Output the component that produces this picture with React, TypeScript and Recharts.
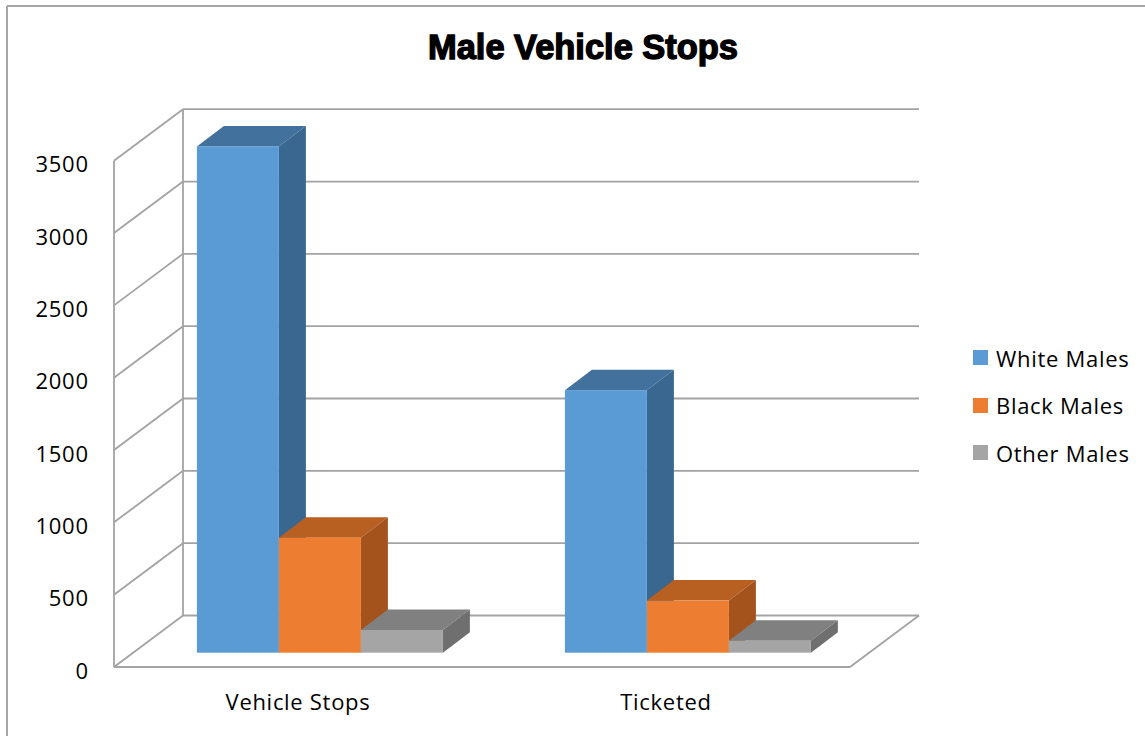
import React from 'react';
import { BarChart, Bar, XAxis, YAxis, CartesianGrid, Legend } from 'recharts';

const categories = ['Vehicle Stops', 'Ticketed'];
const whiteMales = [3500, 1815];
const blackMales = [795, 360];
const otherMales = [157, 83];
const yTicks = [0, 500, 1000, 1500, 2000, 2500, 3000, 3500];
const seriesNames = ['White Males', 'Black Males', 'Other Males'];

const data = categories.map((c, i) => ({
  category: c,
  white: whiteMales[i],
  black: blackMales[i],
  other: otherMales[i],
}));

const FONT = '"Open Sans", "Noto Sans", sans-serif';
const FS = 22;
const LS = 0.7;
const GRID = '#a3a3a3';
const WALL_DX = 69;
const WALL_DY = 51.5;
const FRONT_DX = 21.4;
const FRONT_DY = 14.3;
const BAR_DX = 27;
const BAR_DY = 20.5;

const COLORS = [
  { front: '#5B9BD5', top: '#41719C', side: '#3A6790' },
  { front: '#ED7D31', top: '#B85F22', side: '#A5531C' },
  { front: '#A5A5A5', top: '#808080', side: '#6F6F6F' },
];

const make3DBar = (c: { front: string; top: string; side: string }) => (p: any) => {
  const { x, y, width, height } = p;
  if (width == null || height == null) return <g />;
  const d = BAR_DX;
  const e = BAR_DY;
  return (
    <g>
      <polygon
        points={`${x},${y} ${x + d},${y - e} ${x + width + d},${y - e} ${x + width},${y}`}
        fill={c.top}
      />
      <polygon
        points={`${x + width},${y} ${x + width + d},${y - e} ${x + width + d},${y + height - e} ${x + width},${y + height}`}
        fill={c.side}
      />
      <rect x={x} y={y} width={width} height={height} fill={c.front} />
    </g>
  );
};

const renderGridLine = (p: any) => {
  const y = p.y1;
  const fx = p.x1 - FRONT_DX;
  const fy = y + FRONT_DY;
  const bx = fx + WALL_DX;
  const by = fy - WALL_DY;
  const frx = p.x2 - FRONT_DX;
  const brx = frx + WALL_DX;
  const isBottom = p.y != null && p.height != null && Math.abs(y - (p.y + p.height)) < 1;
  return (
    <g key={p.key ?? `g-${p.index}`}>
      <line x1={fx} y1={fy} x2={bx} y2={by} stroke={GRID} strokeWidth={1.8} />
      <line x1={bx} y1={by} x2={brx} y2={by} stroke={GRID} strokeWidth={1.8} />
      {isBottom && (
        <g>
          <line x1={fx} y1={fy} x2={frx} y2={fy} stroke={GRID} strokeWidth={1.8} />
          <line x1={frx} y1={fy} x2={brx} y2={by} stroke={GRID} strokeWidth={1.8} />
          <line x1={fx} y1={fy} x2={fx} y2={p.y + FRONT_DY} stroke={GRID} strokeWidth={1.8} />
          <line x1={bx} y1={by} x2={bx} y2={p.y + FRONT_DY - WALL_DY} stroke={GRID} strokeWidth={1.8} />
        </g>
      )}
    </g>
  );
};

const YTick = (p: any) => (
  <text
    x={p.x - 46.7}
    y={p.y + 26}
    textAnchor="end"
    fontFamily={FONT}
    fontSize={FS}
    letterSpacing={LS}
    fill="#000"
  >
    {p.payload.value}
  </text>
);

const XTick = (p: any) => (
  <text
    x={p.x - FRONT_DX}
    y={p.y + 57.5}
    textAnchor="middle"
    fontFamily={FONT}
    fontSize={FS}
    letterSpacing={LS}
    fill="#000"
  >
    {p.payload.value}
  </text>
);

const LegendContent = () => (
  <div style={{ fontFamily: FONT, fontSize: FS, letterSpacing: LS, color: '#000' }}>
    {seriesNames.map((n, i) => (
      <div key={n} style={{ display: 'flex', alignItems: 'center', height: 47.5, whiteSpace: 'nowrap' }}>
        <span style={{ display: 'inline-block', width: 15, height: 15, background: COLORS[i].front, marginRight: 8 }} />
        <span>{n}</span>
      </div>
    ))}
  </div>
);

export default function App() {
  return (
    <div style={{ position: 'absolute', left: 0, top: 0, width: 1145, height: 736, background: '#fff', fontFamily: FONT }}>
      <BarChart
        width={1145}
        height={736}
        data={data}
        margin={{ top: 146.4, right: 273.6, bottom: 43.3, left: 0 }}
        barGap={0}
        barCategoryGap={61.5}
      >
        <CartesianGrid horizontal={renderGridLine} vertical={false} />
        <XAxis
          dataKey="category"
          axisLine={false}
          tickLine={false}
          tickSize={0}
          tickMargin={0}
          height={40}
          tick={XTick}
          interval={0}
        />
        <YAxis
          type="number"
          domain={[0, 3500]}
          ticks={yTicks}
          axisLine={false}
          tickLine={false}
          tickSize={0}
          tickMargin={0}
          width={135.4}
          tick={YTick}
          interval={0}
        />
        <Legend
          layout="horizontal"
          verticalAlign="middle"
          align="center"
          content={LegendContent}
          wrapperStyle={{ position: 'absolute', left: 973, top: 334, width: 172, height: 150 }}
        />
        <Bar dataKey="white" name={seriesNames[0]} fill={COLORS[0].front} shape={make3DBar(COLORS[0])} isAnimationActive={false} />
        <Bar dataKey="black" name={seriesNames[1]} fill={COLORS[1].front} shape={make3DBar(COLORS[1])} isAnimationActive={false} />
        <Bar dataKey="other" name={seriesNames[2]} fill={COLORS[2].front} shape={make3DBar(COLORS[2])} isAnimationActive={false} />
      </BarChart>
      <svg
        width={1145}
        height={736}
        style={{ position: 'absolute', left: 0, top: 0, pointerEvents: 'none' }}
      >
        <line x1={7} y1={6} x2={1145} y2={6} stroke="#a6a6a6" strokeWidth={2} />
        <line x1={7} y1={6} x2={7} y2={736} stroke="#a6a6a6" strokeWidth={2} />
        <text
          x={583}
          y={59.3}
          textAnchor="middle"
          fontFamily='"Liberation Sans", Arial, sans-serif'
          fontWeight={700}
          fontSize={35}
          stroke="#000"
          strokeWidth={1.4}
          fill="#000"
          textLength={310}
          lengthAdjust="spacingAndGlyphs"
        >
          Male Vehicle Stops
        </text>
      </svg>
    </div>
  );
}
